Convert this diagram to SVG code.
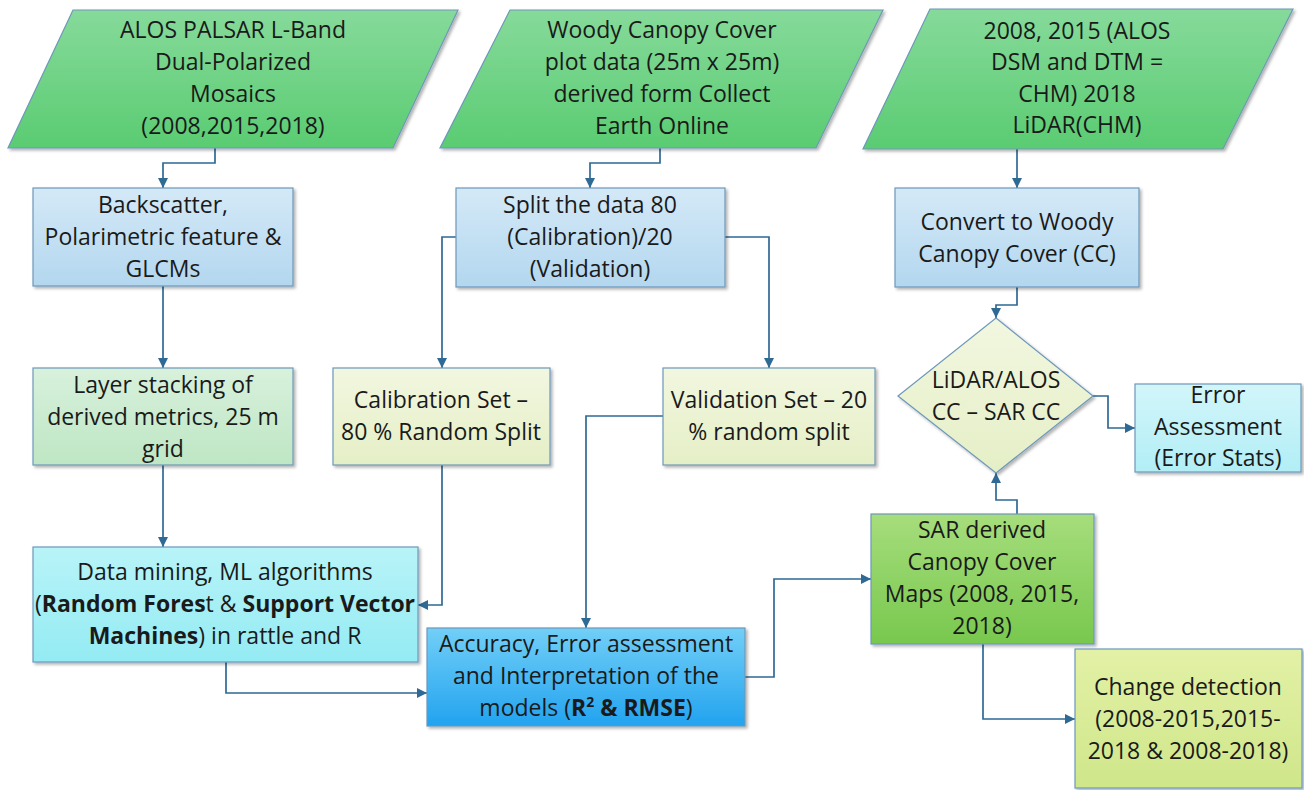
<svg xmlns="http://www.w3.org/2000/svg" width="1304" height="790" viewBox="0 0 1304 790">
<style>
text{font-family:"Open Sans","Liberation Sans",sans-serif;font-size:23px;fill:#1a1a1a;text-anchor:middle}
.b{font-weight:bold}
.n{stroke:#6d98ba;stroke-width:1.2}
.c{fill:none;stroke:#2e6a94;stroke-width:1.7;marker-end:url(#ah)}
</style>
<defs>
<filter id="sh" x="-5%" y="-5%" width="112%" height="115%"><feDropShadow dx="2" dy="2" stdDeviation="1.5" flood-color="#000" flood-opacity="0.3"/></filter>
<marker id="ah" viewBox="0 0 10 10" refX="10" refY="5" markerWidth="10" markerHeight="10" markerUnits="userSpaceOnUse" orient="auto"><path d="M0,0 L10,5 L0,10 z" fill="#2e6a94"/></marker>
<linearGradient id="gP" x1="0" y1="0" x2="0" y2="1"><stop offset="0" stop-color="#86da9a"/><stop offset="1" stop-color="#5acc72"/></linearGradient>
<linearGradient id="gB" x1="0" y1="0" x2="0" y2="1"><stop offset="0" stop-color="#d4e9f7"/><stop offset="1" stop-color="#b3d7ef"/></linearGradient>
<linearGradient id="gG" x1="0" y1="0" x2="0" y2="1"><stop offset="0" stop-color="#d8f1dc"/><stop offset="1" stop-color="#bee6c4"/></linearGradient>
<linearGradient id="gY" x1="0" y1="0" x2="0" y2="1"><stop offset="0" stop-color="#f2f7e0"/><stop offset="1" stop-color="#e5efc6"/></linearGradient>
<linearGradient id="gE" x1="0" y1="0" x2="0" y2="1"><stop offset="0" stop-color="#d2f6fa"/><stop offset="1" stop-color="#b2eef6"/></linearGradient>
<linearGradient id="gD" x1="0" y1="0" x2="0" y2="1"><stop offset="0" stop-color="#b8f4f8"/><stop offset="1" stop-color="#94ebf3"/></linearGradient>
<linearGradient id="gA" x1="0" y1="0" x2="0" y2="1"><stop offset="0" stop-color="#72cff7"/><stop offset="1" stop-color="#22a3ef"/></linearGradient>
<linearGradient id="gS" x1="0" y1="0" x2="0" y2="1"><stop offset="0" stop-color="#a6dd7c"/><stop offset="1" stop-color="#78c84e"/></linearGradient>
<linearGradient id="gC" x1="0" y1="0" x2="0" y2="1"><stop offset="0" stop-color="#e3f1a6"/><stop offset="1" stop-color="#cfe68a"/></linearGradient>
</defs>
<rect width="1304" height="790" fill="#fff"/>

<g id="connectors">
<path class="c" d="M215,148 V163 H163 V188"/>
<path class="c" d="M660,148 V163 H590 V188"/>
<path class="c" d="M1017,149 V188"/>
<path class="c" d="M163,286 V368"/>
<path class="c" d="M456,237 H442 V368"/>
<path class="c" d="M725,237 H769 V368"/>
<path class="c" d="M1017,287 V305 H996 V318"/>
<path class="c" d="M1093,396 H1108 V428 H1135"/>
<path class="c" d="M163,465 V547"/>
<path class="c" d="M442,465 V605 H418"/>
<path class="c" d="M226,662 V693 H427"/>
<path class="c" d="M663,416 H586 V628"/>
<path class="c" d="M745,677 H774 V579 H871"/>
<path class="c" d="M1017,514 V500 H996 V473"/>
<path class="c" d="M983,644 V719 H1075"/>
</g>

<g id="alos">
<polygon class="n" points="73,10 458,10 393,148 8,148" fill="url(#gP)" filter="url(#sh)"/>
<text x="233" y="38">ALOS PALSAR L-Band</text>
<text x="233" y="70">Dual-Polarized</text>
<text x="233" y="102">Mosaics</text>
<text x="233" y="134">(2008,2015,2018)</text>
</g>

<g id="woody">
<polygon class="n" points="510,10 883,10 816,148 440,148" fill="url(#gP)" filter="url(#sh)"/>
<text x="662" y="38">Woody Canopy Cover</text>
<text x="662" y="70">plot data (25m x 25m)</text>
<text x="662" y="102">derived form Collect</text>
<text x="662" y="134">Earth Online</text>
</g>

<g id="chm">
<polygon class="n" points="930,9 1293,9 1223,149 863,149" fill="url(#gP)" filter="url(#sh)"/>
<text x="1077" y="39">2008, 2015 (ALOS</text>
<text x="1077" y="70">DSM and DTM =</text>
<text x="1077" y="102">CHM) 2018</text>
<text x="1077" y="133">LiDAR(CHM)</text>
</g>

<g id="backscatter">
<rect class="n" x="33" y="188" width="260" height="98" fill="url(#gB)" filter="url(#sh)"/>
<text x="163" y="213">Backscatter,</text>
<text x="163" y="245">Polarimetric feature &amp;</text>
<text x="163" y="277">GLCMs</text>
</g>

<g id="split">
<rect class="n" x="456" y="188" width="269" height="99" fill="url(#gB)" filter="url(#sh)"/>
<text x="590" y="213">Split the data 80</text>
<text x="590" y="245">(Calibration)/20</text>
<text x="590" y="277">(Validation)</text>
</g>

<g id="convert">
<rect class="n" x="895" y="188" width="244" height="99" fill="url(#gB)" filter="url(#sh)"/>
<text x="1017" y="230">Convert to Woody</text>
<text x="1017" y="262">Canopy Cover (CC)</text>
</g>

<g id="layer">
<rect class="n" x="33" y="368" width="260" height="97" fill="url(#gG)" filter="url(#sh)"/>
<text x="163" y="393">Layer stacking of</text>
<text x="163" y="425">derived metrics, 25 m</text>
<text x="163" y="457">grid</text>
</g>

<g id="calibration">
<rect class="n" x="333" y="368" width="217" height="97" fill="url(#gY)" filter="url(#sh)"/>
<text x="441" y="408">Calibration Set –</text>
<text x="441" y="440">80 % Random Split</text>
</g>

<g id="validation">
<rect class="n" x="663" y="368" width="212" height="97" fill="url(#gY)" filter="url(#sh)"/>
<text x="769" y="408">Validation Set – 20</text>
<text x="769" y="440">% random split</text>
</g>

<g id="diamond">
<polygon class="n" points="996,318 1093,396 996,473 898,396" fill="url(#gY)" filter="url(#sh)"/>
<text x="996" y="388">LiDAR/ALOS</text>
<text x="996" y="420">CC – SAR CC</text>
</g>

<g id="error">
<rect class="n" x="1135" y="384" width="166" height="88" fill="url(#gE)" filter="url(#sh)"/>
<text x="1218" y="403">Error</text>
<text x="1218" y="435">Assessment</text>
<text x="1218" y="466">(Error Stats)</text>
</g>

<g id="datamining">
<rect class="n" x="33" y="547" width="385" height="115" fill="url(#gD)" filter="url(#sh)"/>
<text x="225" y="580">Data mining, ML algorithms</text>
<text x="225" y="612">(<tspan class="b">Random Fores</tspan>t &amp; <tspan class="b">Support Vector</tspan></text>
<text x="225" y="644"><tspan class="b">Machines</tspan>) in rattle and R</text>
</g>

<g id="accuracy">
<rect class="n" x="427" y="628" width="318" height="98" fill="url(#gA)" filter="url(#sh)"/>
<text x="586" y="652">Accuracy, Error assessment</text>
<text x="586" y="684">and Interpretation of the</text>
<text x="586" y="716">models (<tspan class="b">R</tspan><tspan class="b" font-size="14" dy="-9">2</tspan><tspan class="b" dy="9"> &amp; RMSE</tspan>)</text>
</g>

<g id="sar">
<rect class="n" x="871" y="514" width="223" height="130" fill="url(#gS)" filter="url(#sh)"/>
<text x="982" y="538">SAR derived</text>
<text x="982" y="570">Canopy Cover</text>
<text x="982" y="602">Maps (2008, 2015,</text>
<text x="982" y="634">2018)</text>
</g>

<g id="change">
<rect class="n" x="1075" y="649" width="227" height="139" fill="url(#gC)" filter="url(#sh)"/>
<text x="1188" y="695">Change detection</text>
<text x="1188" y="727">(2008-2015,2015-</text>
<text x="1188" y="759">2018 &amp; 2008-2018)</text>
</g>
</svg>
